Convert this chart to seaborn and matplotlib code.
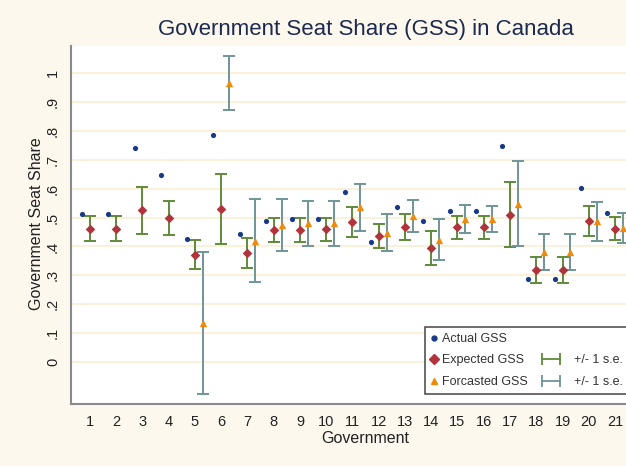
import numpy as np
import pandas as pd
import seaborn as sns
import matplotlib.pyplot as plt
from matplotlib.lines import Line2D
from matplotlib.legend_handler import HandlerLine2D

# Government Seat Share (GSS) in Canada - actual vs expected vs forecasted

governments = list(range(1, 22))
actual_gss = [0.512, 0.512, 0.739, 0.647, 0.426, 0.787, 0.442, 0.488, 0.496, 0.496, 0.589,
              0.415, 0.535, 0.487, 0.524, 0.524, 0.749, 0.288, 0.288, 0.602, 0.517]
expected_gss = [0.461, 0.461, 0.525, 0.499, 0.371, 0.530, 0.376, 0.457, 0.457, 0.459, 0.484,
                0.437, 0.468, 0.394, 0.466, 0.466, 0.510, 0.318, 0.318, 0.487, 0.462]
expected_se = [0.043, 0.043, 0.081, 0.060, 0.050, 0.121, 0.052, 0.040, 0.040, 0.041, 0.052,
               0.042, 0.044, 0.058, 0.041, 0.041, 0.113, 0.044, 0.044, 0.052, 0.040]
forecast_gss = [np.nan, np.nan, np.nan, np.nan, 0.136, 0.966, 0.420, 0.474, 0.480, 0.480, 0.535,
                0.447, 0.505, 0.424, 0.495, 0.495, 0.547, 0.380, 0.380, 0.487, 0.463]
forecast_se = [np.nan, np.nan, np.nan, np.nan, 0.245, 0.094, 0.144, 0.090, 0.077, 0.077, 0.081,
               0.064, 0.056, 0.071, 0.047, 0.046, 0.147, 0.063, 0.063, 0.067, 0.052]
ytick_vals = [0, 0.1, 0.2, 0.3, 0.4, 0.5, 0.6, 0.7, 0.8, 0.9, 1.0]
ytick_labels = ["0", ".1", ".2", ".3", ".4", ".5", ".6", ".7", ".8", ".9", "1"]

df = pd.DataFrame({"gov": governments, "actual": actual_gss, "expected": expected_gss,
                   "exp_se": expected_se, "forecast": forecast_gss, "fc_se": forecast_se})
df["x_actual"] = df["gov"] - 0.3
df["x_forecast"] = df["gov"] + 0.3

sns.set_style("white")
plt.rcParams["font.family"] = ["Liberation Sans", "DejaVu Sans"]

bg = "#fdf8ee"
navy = "#17398a"
maroon = "#b0343c"
orange = "#ef8a0c"
green = "#5f8a3a"
teal = "#6f9598"

fig = plt.figure(figsize=(6.26, 4.66), dpi=100, facecolor=bg)
ax = fig.add_axes([0.1134, 0.133, 0.911, 0.768])
ax.set_facecolor("white")

for yv in ytick_vals:
    ax.axhline(yv, color="#fbf0d8", linewidth=1.4, zorder=0)

ax.errorbar(df["gov"], df["expected"], yerr=df["exp_se"], fmt="none", ecolor=green,
            elinewidth=1.4, capsize=4, capthick=1.4, zorder=2)
ax.errorbar(df["x_forecast"], df["forecast"], yerr=df["fc_se"], fmt="none", ecolor=teal,
            elinewidth=1.4, capsize=4, capthick=1.4, zorder=2)

sns.scatterplot(data=df, x="x_actual", y="actual", ax=ax, color=navy, marker="o", s=14,
                linewidth=0, zorder=3)
sns.scatterplot(data=df, x="gov", y="expected", ax=ax, color=maroon, marker="D", s=24,
                linewidth=0, zorder=3)
sns.scatterplot(data=df.dropna(), x="x_forecast", y="forecast", ax=ax, color=orange, marker="^",
                s=28, linewidth=0, zorder=4)

ax.set_xlim(0.28, 22.0)
ax.set_ylim(-0.145, 1.093)
ax.set_xticks(governments)
ax.set_xticklabels([str(g) for g in governments], fontsize=10.5, color="#222222")
ax.set_yticks(ytick_vals)
ax.set_yticklabels(ytick_labels, rotation=90, va="center", fontsize=10.5, color="#222222")
ax.tick_params(axis="both", direction="out", length=5, width=1.1, color="#8a8a8a", pad=3)
ax.set_xlabel("")
ax.set_ylabel("")

for side in ["top", "right"]:
    ax.spines[side].set_visible(False)
for side in ["left", "bottom"]:
    ax.spines[side].set_color("#8a8a8a")
    ax.spines[side].set_linewidth(1.5)

fig.text(0.584, 0.936, "Government Seat Share (GSS) in Canada", ha="center", va="center",
         fontsize=16, color="#1c2a4e")
fig.text(0.583, 0.060, "Government", ha="center", va="center", fontsize=11.5, color="#222222")
fig.text(0.058, 0.52, "Government Seat Share", ha="center", va="center", rotation=90,
         fontsize=11.5, color="#222222")

# legend, left column (framed box, stretched past the right edge)
h_actual = Line2D([], [], color=navy, marker="o", markersize=3.5, linestyle="none")
h_expected = Line2D([], [], color=maroon, marker="D", markersize=5, linestyle="none")
h_forecast = Line2D([], [], color=orange, marker="^", markersize=5, linestyle="none")
leg1 = fig.legend([h_actual, h_expected, h_forecast], ["Actual GSS", "Expected GSS", "Forcasted GSS"],
                  loc="upper left", bbox_to_anchor=(0.679, 0.0, 0.5, 0.298), mode="expand",
                  bbox_transform=fig.transFigure, fontsize=9, labelspacing=0.76, borderpad=0.46,
                  handlelength=0.5, handletextpad=0.4, borderaxespad=0, fancybox=False,
                  framealpha=1, edgecolor="#444444", labelcolor="#333333")
leg1.get_frame().set_linewidth(1.1)

# legend, right column (error bar symbols)
h_blank = Line2D([], [], alpha=0)
h_green = Line2D([], [], color=green, marker="|", markersize=8, markeredgewidth=1.3, linewidth=1.3)
h_teal = Line2D([], [], color=teal, marker="|", markersize=8, markeredgewidth=1.3, linewidth=1.3)
leg2 = fig.legend([h_blank, h_green, h_teal], [" ", "+/- 1 s.e.", "+/- 1 s.e."],
                  loc="upper left", bbox_to_anchor=((538 - 5.75) / 626, 0.298),
                  bbox_transform=fig.transFigure, fontsize=9, labelspacing=0.76, borderpad=0.46,
                  handlelength=2.08, handletextpad=0.8, borderaxespad=0, frameon=False,
                  labelcolor="#333333",
                  handler_map={h_green: HandlerLine2D(numpoints=2), h_teal: HandlerLine2D(numpoints=2)})

fig.savefig("out.png", dpi=100, facecolor=bg)
